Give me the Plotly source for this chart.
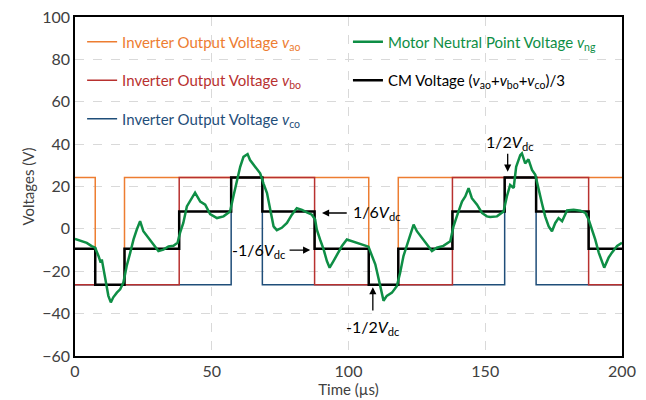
import plotly.graph_objects as go

# ---- data ----
vao_t = [0, 7.4, 18.1, 107.4, 118.2, 200]
vao_v = [24.3, -26.4, 24.3, -26.4, 24.3, 24.3]
vbo_t = [0, 38.1, 87.6, 138.0, 187.8, 200]
vbo_v = [-26.4, 24.3, -26.4, 24.3, -26.4, -26.4]
vco_t = [0, 57.1, 68.5, 157.1, 168.6, 200]
vco_v = [-26.4, 24.3, -26.4, 24.3, -26.4, -26.4]
cm_t = [0, 7.4, 18.1, 38.1, 57.1, 68.5, 87.6, 107.4, 118.2, 138.0, 157.1, 168.6, 187.8, 200]
cm_v = [-9.4, -26.4, -9.4, 8.2, 24.2, 8.2, -9.4, -26.4, -9.4, 8.2, 24.2, 8.2, -9.4, -9.4]

vng_t = [0, 1.9, 4.3, 6.1, 7.35, 8.6, 9.4, 9.8, 10.4, 11.4, 12.2, 13.1, 14.0, 15.3, 16.5, 17.7,
         18.9, 20.2, 21.4, 22.6, 23.8, 25.0, 26.9, 28.7, 30.5, 32.3, 34.2, 36.0, 37.5, 38.4, 39.6,
         40.9, 42.3, 43.9, 45.8, 47.6, 49.4, 51.9, 54.3, 56.7, 57.9, 59.2, 60.4, 61.6, 63.1, 64.0,
         65.3, 66.5, 67.7, 68.9, 70.2, 71.4, 72.6, 73.8, 75.6, 77.5, 79.3, 81.1, 83.0, 84.8, 86.6,
         87.8, 88.4, 89.6, 90.9, 92.1, 93.1, 94.5, 95.8, 97.6, 99.4, 101.2, 103.1, 105.5, 107.3,
         108.6, 109.8, 111.6, 112.8, 114.0, 115.9, 117.7, 118.9, 120.1, 121.9, 123.8, 125.0, 126.8,
         128.7, 130.5, 132.3, 134.7, 137.2, 138.4, 139.6, 141.5, 142.7, 143.9, 145.1, 147.0, 148.8,
         150.6, 151.8, 154.3, 156.7, 157.9, 159.1, 160.4, 161.3, 162.8, 163.4, 164.6, 165.8, 167.1,
         168.3, 169.5, 170.7, 171.9, 173.2, 174.4, 175.6, 176.8, 178.1, 179.9, 182.3, 184.8, 186.6,
         187.8, 189.0, 190.2, 191.5, 192.7, 193.5, 195.1, 196.3, 198.2, 200]
vng_v = [-4.7, -5.5, -6.6, -8.1, -8.9, -12.8, -15.9, -14.4, -19.1, -26.9, -31.6, -34.7, -32.3, -30.1,
         -28.5, -25.3, -17.5, -11.2, -5.0, -0.3, 3.6, -1.1, -4.2, -7.4, -10.5, -9.8, -8.3, -8.0, -6.6,
         -1.9, 2.8, 10.6, 13.7, 17.1, 12.9, 11.4, 7.0, 5.1, 5.9, 8.2, 15.3, 23.1, 29.3, 34.0, 35.3,
         32.5, 30.1, 27.8, 26.2, 21.5, 16.9, 9.0, 1.2, -0.6, 0.5, 2.8, 6.7, 9.8, 9.0, 7.8, 6.7, 4.4,
         -0.3, -5.0, -9.7, -15.2, -18.3, -15.2, -12.0, -8.1, -5.0, -5.8, -6.6, -7.4, -8.4, -12.8,
         -16.7, -26.9, -33.9, -31.6, -30.1, -26.9, -20.6, -12.8, -5.0, 2.0, -1.1, -4.2, -7.4, -10.5,
         -8.9, -8.0, -5.8, 1.2, 5.9, 12.9, 15.3, 19.2, 14.5, 11.4, 7.5, 5.9, 5.6, 5.9, 8.2, 15.3,
         20.7, 19.3, 29.3, 34.8, 35.6, 30.9, 32.8, 27.8, 25.5, 18.4, 12.2, 5.9, 1.2, -1.1, 2.8, 5.1,
         3.6, 8.7, 9.0, 8.6, 7.5, 4.4, -0.3, -5.0, -11.2, -15.9, -18.3, -13.6, -11.2, -8.1, -6.6]

x_ticks = [0, 50, 100, 150, 200]
y_ticks = [-60, -40, -20, 0, 20, 40, 60, 80, 100]

C_ORANGE = "#ED7D31"
C_RED = "#B8312F"
C_BLUE = "#1F4E79"
C_GREEN = "#0E8E45"
C_BLACK = "#000000"
FONT = "Lato"

def lbl(txt, color):
    return f'<span style="color:{color}">{txt}</span>'

fig = go.Figure()
fig.add_trace(go.Scatter(x=vao_t, y=vao_v, mode="lines", line=dict(color=C_ORANGE, width=1.5, shape="hv"),
                         name=lbl("Inverter Output Voltage <i>v</i><sub>ao</sub>", C_ORANGE),
                         legend="legend", legendgroup="a", legendrank=1))
fig.add_trace(go.Scatter(x=vco_t, y=vco_v, mode="lines", line=dict(color=C_BLUE, width=1.5, shape="hv"),
                         name=lbl("Inverter Output Voltage <i>v</i><sub>co</sub>", C_BLUE),
                         legend="legend", legendgroup="c", legendrank=3))
fig.add_trace(go.Scatter(x=vbo_t, y=vbo_v, mode="lines", line=dict(color=C_RED, width=1.5, shape="hv"),
                         name=lbl("Inverter Output Voltage <i>v</i><sub>bo</sub>", C_RED),
                         legend="legend", legendgroup="b", legendrank=2))
fig.add_trace(go.Scatter(x=cm_t, y=cm_v, mode="lines", line=dict(color=C_BLACK, width=2.5, shape="hv"),
                         name=lbl("CM Voltage (<i>v</i><sub>ao</sub>+<i>v</i><sub>bo</sub>+<i>v</i><sub>co</sub>)/3", C_BLACK),
                         legend="legend2", legendgroup="cm", legendrank=2))
fig.add_trace(go.Scatter(x=vng_t, y=vng_v, mode="lines", line=dict(color=C_GREEN, width=2.5),
                         name=lbl("Motor Neutral Point Voltage <i>v</i><sub>ng</sub>", C_GREEN),
                         legend="legend2", legendgroup="ng", legendrank=1))

# annotation arrows
arrows = [
    (158.2, 27.0, 158.2, 36.2),
    (90.3, 7.5, 99.9, 7.5),
    (86.0, -10.0, 77.9, -10.0),
    (108.9, -27.5, 108.9, -39.2),
]
for (x, y, ax, ay) in arrows:
    fig.add_annotation(x=x, y=y, ax=ax, ay=ay, axref="x", ayref="y", text="", showarrow=True,
                       arrowhead=2, arrowsize=1.1, arrowwidth=1.3, arrowcolor="black")

labels = [
    (159.0, 41.0, "1/2<i>V</i><sub>dc</sub>", "center"),
    (101.0, 7.5, "1/6<i>V</i><sub>dc</sub>", "left"),
    (78.0, -10.0, "-1/6<i>V</i><sub>dc</sub>", "right"),
    (108.9, -46.5, "-1/2<i>V</i><sub>dc</sub>", "center"),
]
for (x, y, t, anc) in labels:
    fig.add_annotation(x=x, y=y, text=t, showarrow=False, xanchor=anc,
                       font=dict(family=FONT, size=16, color="black"))

fig.update_layout(
    width=646, height=400,
    margin=dict(l=75, r=24, t=17, b=44, autoexpand=False),
    plot_bgcolor="white", paper_bgcolor="white",
    font=dict(family=FONT, size=15, color="#404040"),
    legend=dict(x=0.013, y=0.975, xanchor="left", yanchor="top", bgcolor="rgba(0,0,0,0)",
                tracegroupgap=16, font=dict(family=FONT, size=15), itemwidth=30),
    legend2=dict(x=0.499, y=0.975, xanchor="left", yanchor="top", bgcolor="rgba(0,0,0,0)",
                 tracegroupgap=16, font=dict(family=FONT, size=15), itemwidth=30),
    showlegend=True,
)
fig.update_xaxes(range=[0, 200], tickvals=x_ticks, showgrid=True, gridcolor="#d9d9d9", griddash="dash",
                 gridwidth=1, showline=True, linecolor="black", linewidth=1.5, mirror=True,
                 zeroline=False, ticks="", automargin=False,
                 title=dict(text="Time (µs)", standoff=0, font=dict(size=15)),
                 tickfont=dict(size=16))
fig.update_yaxes(range=[-60, 100], tickvals=y_ticks, showgrid=True, gridcolor="#d9d9d9", griddash="dash",
                 gridwidth=1, showline=True, linecolor="black", linewidth=1.5, mirror=True,
                 zeroline=False, ticks="", automargin=False,
                 title=dict(text="Voltages (V)", standoff=4, font=dict(size=15)),
                 tickfont=dict(size=16))

fig.write_html("out.html")
